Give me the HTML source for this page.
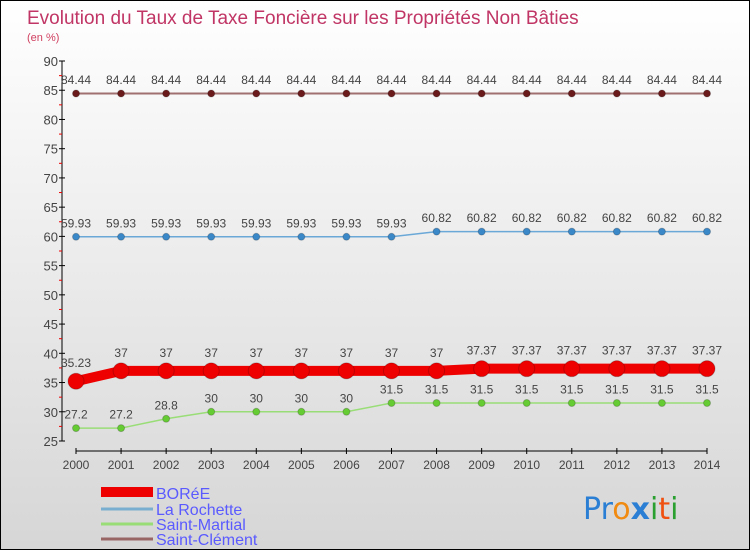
<!DOCTYPE html>
<html><head><meta charset="utf-8"><style>
body{margin:0}
#c{width:748px;height:548px;border:1px solid #000;background:linear-gradient(#fff,#d6d6d6);position:relative;overflow:hidden;font-family:"Liberation Sans",sans-serif}
</style></head><body>
<div id="c">
<svg id="s" width="748" height="548" font-family="'Liberation Sans',sans-serif">
<text x="26" y="23" font-size="19" fill="#c03565">Evolution du Taux de Taxe Foncière sur les Propriétés Non Bâties</text>
<text x="26" y="40" font-size="11" fill="#d04060">(en %)</text>
<g id="axes"></g><g id="series"></g>
<g>
<rect x="100" y="486" width="52" height="10" fill="#e00"/>
<text x="155" y="498" font-size="16" fill="#5a5aff">BORéE</text>
<line x1="100" x2="152" y1="508" y2="508" stroke="#7aaed0" stroke-width="3"/>
<text x="155" y="514" font-size="16" fill="#5a5aff">La Rochette</text>
<line x1="100" x2="152" y1="523" y2="523" stroke="#99dd77" stroke-width="3"/>
<text x="155" y="529" font-size="16" fill="#5a5aff">Saint-Martial</text>
<line x1="100" x2="152" y1="538" y2="538" stroke="#996666" stroke-width="3"/>
<text x="155" y="544" font-size="16" fill="#5a5aff">Saint-Clément</text>
</g>
<g font-size="30" font-family="'DejaVu Sans',sans-serif">
<text x="582" y="518"><tspan fill="#2a7fd4">Pr</tspan><tspan fill="#f08a10">o</tspan><tspan fill="#2a7fd4" font-weight="bold">x</tspan><tspan fill="#2aa030">i</tspan><tspan fill="#f05010">t</tspan><tspan fill="#2aa030">i</tspan></text>
</g>
</svg>
</div>
<script>
const years=[2000,2001,2002,2003,2004,2005,2006,2007,2008,2009,2010,2011,2012,2013,2014];
const yTicks=[25,30,35,40,45,50,55,60,65,70,75,80,85,90];
const boree=[35.23,37,37,37,37,37,37,37,37,37.37,37.37,37.37,37.37,37.37,37.37];
const laRochette=[59.93,59.93,59.93,59.93,59.93,59.93,59.93,59.93,60.82,60.82,60.82,60.82,60.82,60.82,60.82];
const saintMartial=[27.2,27.2,28.8,30,30,30,30,31.5,31.5,31.5,31.5,31.5,31.5,31.5,31.5];
const saintClement=[84.44,84.44,84.44,84.44,84.44,84.44,84.44,84.44,84.44,84.44,84.44,84.44,84.44,84.44,84.44];
const NS="http://www.w3.org/2000/svg";
const X=i=>75+i*(706-75)/(years.length-1);
const Y=v=>440-(v-25)*(380/65);
function mk(p,t,a){const e=document.createElementNS(NS,t);for(const k in a)e.setAttribute(k,a[k]);p.appendChild(e);return e;}
const ax=document.getElementById('axes');
let e=mk(ax,'line',{x1:61,x2:61,y1:60,y2:440,stroke:'#000','stroke-width':1});


e=mk(ax,'line',{x1:75,x2:706,y1:450,y2:450,stroke:'#000','stroke-width':1});


yTicks.forEach(v=>{const y=Y(v);mk(ax,'line',{x1:58,x2:64,y1:y,y2:y,stroke:'#000'});
 if(v<90)mk(ax,'line',{x1:58,x2:61,y1:Y(v+2.5),y2:Y(v+2.5),stroke:'#e00'});
 const t=mk(ax,'text',{x:57,y:y+5,'text-anchor':'end','font-size':13,fill:'#444'});t.textContent=v;
 
 });
years.forEach((yr,i)=>{const x=X(i);mk(ax,'line',{x1:x,x2:x,y1:447,y2:453,stroke:'#000'});
 const t=mk(ax,'text',{x:x,y:468,'text-anchor':'middle','font-size':12,fill:'#444'});t.textContent=yr;
 
 });
const sg=document.getElementById('series');
function draw(name,vals,col,dot,lw,r){const g=mk(sg,'g',{});
 
 
 mk(g,'polyline',{points:vals.map((v,i)=>X(i)+','+Y(v)).join(' '),fill:'none',stroke:col,'stroke-width':lw});
 vals.forEach((v,i)=>{const c=mk(g,'circle',{cx:X(i),cy:Y(v),r:r,fill:dot,stroke:'rgba(0,0,0,0.2)'});
  
  
  const t=mk(g,'text',{x:X(i),y:Y(v)-(r+6),'text-anchor':'middle','font-size':12,fill:'#444'});t.textContent=v;
  
  });}
draw('saint-clement',saintClement,'#a07070','#6a1a1a',2,3.5);
draw('la-rochette',laRochette,'#6aa8d8','#3a88c8',1.5,3.5);
draw('saint-martial',saintMartial,'#99dd77','#66cc33',1.5,3.5);
draw('boree',boree,'#ee0000','#ee0000',10,8);
</script>
</body></html>
